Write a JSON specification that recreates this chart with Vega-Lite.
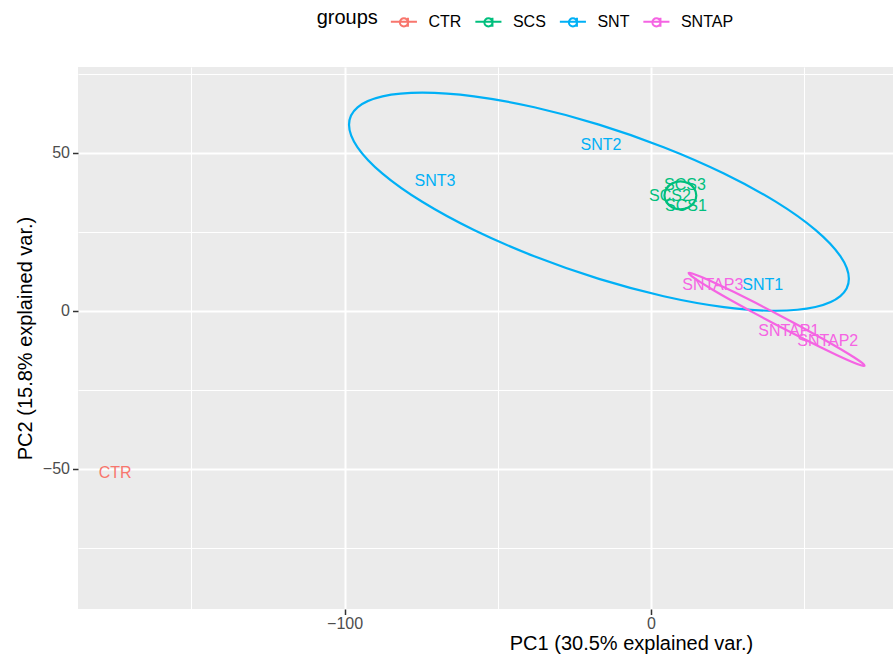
{
  "$schema": "https://vega.github.io/schema/vega-lite/v6.json",
  "width": 815,
  "height": 542,
  "autosize": {"type": "none"},
  "padding": {"left": 78, "top": 67, "right": 0, "bottom": 47},
  "background": "white",
  "config": {
    "view": {"fill": "#EBEBEB", "stroke": null},
    "font": "Liberation Sans",
    "axis": {
      "domain": false,
      "grid": true,
      "gridColor": "white",
      "tickColor": "#333333",
      "tickWidth": 1.5,
      "tickSize": 5.5,
      "labelFont": "Liberation Sans",
      "labelFontSize": 16,
      "labelColor": "#4D4D4D",
      "labelFlush": false,
      "labelOverlap": false,
      "labelBound": false,
      "titleFont": "Liberation Sans",
      "titleFontSize": 20,
      "titleFontWeight": "normal",
      "titleColor": "#000000"
    }
  },
  "datasets": {
    "points": [
      {"group": "CTR", "label": "CTR", "pc1": -174.9, "pc2": -51.3},
      {"group": "SCS", "label": "SCS1", "pc1": 11.4, "pc2": 33.2},
      {"group": "SCS", "label": "SCS2", "pc1": 6.2, "pc2": 36.4},
      {"group": "SCS", "label": "SCS3", "pc1": 11.1, "pc2": 39.9},
      {"group": "SNT", "label": "SNT1", "pc1": 36.5, "pc2": 8.2},
      {"group": "SNT", "label": "SNT2", "pc1": -16.3, "pc2": 52.5},
      {"group": "SNT", "label": "SNT3", "pc1": -70.5, "pc2": 41.1},
      {"group": "SNTAP", "label": "SNTAP1", "pc1": 45.0, "pc2": -6.5},
      {"group": "SNTAP", "label": "SNTAP2", "pc1": 57.7, "pc2": -9.7},
      {"group": "SNTAP", "label": "SNTAP3", "pc1": 20.2, "pc2": 8.2}
    ],
    "ellipses": [
      {"group": "SNT", "i": 0, "pc1": 64.60, "pc2": 10.12},
      {"group": "SNT", "i": 1, "pc1": 61.82, "pc2": 4.64},
      {"group": "SNT", "i": 2, "pc1": 53.67, "pc2": 1.19},
      {"group": "SNT", "i": 3, "pc1": 40.71, "pc2": 0.01},
      {"group": "SNT", "i": 4, "pc1": 23.82, "pc2": 1.17},
      {"group": "SNT", "i": 5, "pc1": 4.14, "pc2": 4.61},
      {"group": "SNT", "i": 6, "pc1": -16.97, "pc2": 10.09},
      {"group": "SNT", "i": 7, "pc1": -38.08, "pc2": 17.23},
      {"group": "SNT", "i": 8, "pc1": -57.76, "pc2": 25.55},
      {"group": "SNT", "i": 9, "pc1": -74.65, "pc2": 34.47},
      {"group": "SNT", "i": 10, "pc1": -87.61, "pc2": 43.39},
      {"group": "SNT", "i": 11, "pc1": -95.76, "pc2": 51.72},
      {"group": "SNT", "i": 12, "pc1": -98.54, "pc2": 58.86},
      {"group": "SNT", "i": 13, "pc1": -95.76, "pc2": 64.34},
      {"group": "SNT", "i": 14, "pc1": -87.61, "pc2": 67.79},
      {"group": "SNT", "i": 15, "pc1": -74.65, "pc2": 68.97},
      {"group": "SNT", "i": 16, "pc1": -57.76, "pc2": 67.81},
      {"group": "SNT", "i": 17, "pc1": -38.08, "pc2": 64.37},
      {"group": "SNT", "i": 18, "pc1": -16.97, "pc2": 58.89},
      {"group": "SNT", "i": 19, "pc1": 4.14, "pc2": 51.75},
      {"group": "SNT", "i": 20, "pc1": 23.82, "pc2": 43.43},
      {"group": "SNT", "i": 21, "pc1": 40.71, "pc2": 34.51},
      {"group": "SNT", "i": 22, "pc1": 53.67, "pc2": 25.59},
      {"group": "SNT", "i": 23, "pc1": 61.82, "pc2": 17.26},
      {"group": "SCS", "i": 0, "pc1": 14.8, "pc2": 36.5},
      {"group": "SCS", "i": 1, "pc1": 14.1, "pc2": 38.7},
      {"group": "SCS", "i": 2, "pc1": 12.2, "pc2": 40.31},
      {"group": "SCS", "i": 3, "pc1": 9.6, "pc2": 40.9},
      {"group": "SCS", "i": 4, "pc1": 7.0, "pc2": 40.31},
      {"group": "SCS", "i": 5, "pc1": 5.1, "pc2": 38.7},
      {"group": "SCS", "i": 6, "pc1": 4.4, "pc2": 36.5},
      {"group": "SCS", "i": 7, "pc1": 5.1, "pc2": 34.3},
      {"group": "SCS", "i": 8, "pc1": 7.0, "pc2": 32.69},
      {"group": "SCS", "i": 9, "pc1": 9.6, "pc2": 32.1},
      {"group": "SCS", "i": 10, "pc1": 12.2, "pc2": 32.69},
      {"group": "SCS", "i": 11, "pc1": 14.1, "pc2": 34.3},
      {"group": "SNTAP", "i": 0, "pc1": 69.71, "pc2": -17.35},
      {"group": "SNTAP", "i": 1, "pc1": 68.53, "pc2": -17.21},
      {"group": "SNTAP", "i": 2, "pc1": 65.48, "pc2": -16.09},
      {"group": "SNTAP", "i": 3, "pc1": 60.76, "pc2": -14.05},
      {"group": "SNTAP", "i": 4, "pc1": 54.70, "pc2": -11.24},
      {"group": "SNTAP", "i": 5, "pc1": 47.70, "pc2": -7.84},
      {"group": "SNTAP", "i": 6, "pc1": 40.24, "pc2": -4.10},
      {"group": "SNTAP", "i": 7, "pc1": 32.84, "pc2": -0.26},
      {"group": "SNTAP", "i": 8, "pc1": 25.98, "pc2": 3.42},
      {"group": "SNTAP", "i": 9, "pc1": 20.16, "pc2": 6.67},
      {"group": "SNTAP", "i": 10, "pc1": 15.76, "pc2": 9.29},
      {"group": "SNTAP", "i": 11, "pc1": 13.07, "pc2": 11.09},
      {"group": "SNTAP", "i": 12, "pc1": 12.29, "pc2": 11.95},
      {"group": "SNTAP", "i": 13, "pc1": 13.47, "pc2": 11.81},
      {"group": "SNTAP", "i": 14, "pc1": 16.52, "pc2": 10.69},
      {"group": "SNTAP", "i": 15, "pc1": 21.24, "pc2": 8.65},
      {"group": "SNTAP", "i": 16, "pc1": 27.30, "pc2": 5.84},
      {"group": "SNTAP", "i": 17, "pc1": 34.30, "pc2": 2.44},
      {"group": "SNTAP", "i": 18, "pc1": 41.76, "pc2": -1.30},
      {"group": "SNTAP", "i": 19, "pc1": 49.16, "pc2": -5.14},
      {"group": "SNTAP", "i": 20, "pc1": 56.02, "pc2": -8.82},
      {"group": "SNTAP", "i": 21, "pc1": 61.84, "pc2": -12.07},
      {"group": "SNTAP", "i": 22, "pc1": 66.24, "pc2": -14.69},
      {"group": "SNTAP", "i": 23, "pc1": 68.93, "pc2": -16.49}
    ]
  },
  "encoding": {
    "x": {
      "field": "pc1", "type": "quantitative",
      "scale": {"domain": [-187, 79], "nice": false, "zero": false},
      "axis": {
        "title": "PC1 (30.5% explained var.)",
        "values": [-150, -100, -50, 0, 50],
        "gridWidth": {"condition": {"test": "datum.value % 100 === 0", "value": 2}, "value": 1},
        "tickOpacity": {"condition": {"test": "datum.value % 100 === 0", "value": 1}, "value": 0},
        "labelExpr": "datum.value % 100 === 0 ? datum.label : ''",
        "labelPadding": 1,
        "titlePadding": 2,
        "titleX": 553,
        "titleAlign": "center"
      }
    },
    "y": {
      "field": "pc2", "type": "quantitative",
      "scale": {"domain": [-94.3, 77.1], "nice": false, "zero": false},
      "axis": {
        "title": "PC2 (15.8% explained var.)",
        "values": [-75, -50, -25, 0, 25, 50, 75],
        "gridWidth": {"condition": {"test": "datum.value % 50 === 0", "value": 2}, "value": 1},
        "tickOpacity": {"condition": {"test": "datum.value % 50 === 0", "value": 1}, "value": 0},
        "labelExpr": "datum.value % 50 === 0 ? datum.label : ''",
        "labelPadding": 3,
        "titlePadding": 7
      }
    },
    "color": {
      "field": "group", "type": "nominal",
      "scale": {"domain": ["CTR", "SCS", "SNT", "SNTAP"], "range": ["#F8766D", "#00BF7D", "#00B0F6", "#F564E3"]},
      "legend": {
        "title": "groups",
        "orient": "none",
        "legendX": 238.7,
        "legendY": -61,
        "direction": "horizontal",
        "titleOrient": "left",
        "titleFont": "Liberation Sans",
        "titleFontSize": 20,
        "titleFontWeight": "normal",
        "titleColor": "#000000",
        "titlePadding": 9.7,
        "titleBaseline": "middle",
        "labelFont": "Liberation Sans",
        "labelFontSize": 16,
        "labelColor": "#000000",
        "labelOffset": 9,
        "columnPadding": 9.5,
        "padding": 0,
        "symbolType": "M-0.9,0H0.9M0.28,-0.28V0.34M0.28,0.04A0.28,0.28 0 1 1 -0.28,0.04A0.28,0.28 0 1 1 0.28,0.04A0.28,0.28 0 1 0 -0.28,0.04A0.28,0.28 0 1 0 0.28,0.04",
        "symbolSize": 841,
        "symbolStrokeWidth": 2
      }
    }
  },
  "layer": [
    {
      "data": {"name": "ellipses"},
      "mark": {"type": "line", "interpolate": "cardinal-closed", "strokeWidth": 2.2},
      "encoding": {"order": {"field": "i", "type": "quantitative"}, "detail": {"field": "group"}}
    },
    {
      "data": {"name": "points"},
      "mark": {"type": "text", "font": "Liberation Sans", "fontSize": 16, "align": "center", "baseline": "middle"},
      "encoding": {"text": {"field": "label"}}
    }
  ]
}
